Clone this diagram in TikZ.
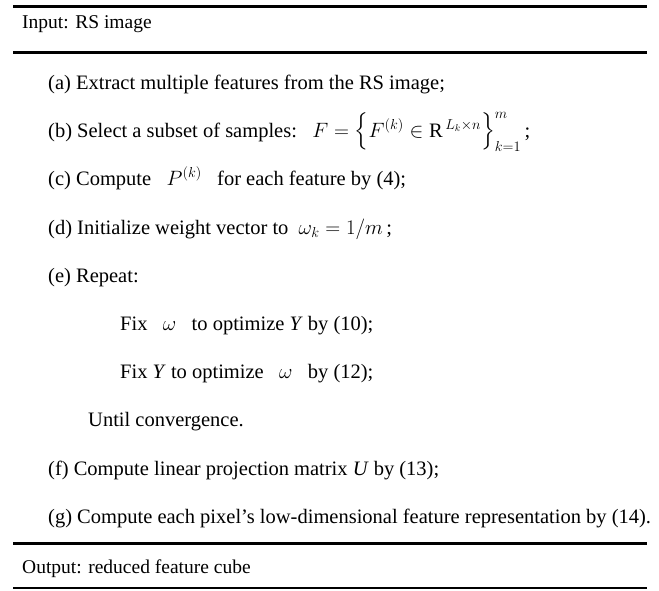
\documentclass[tikz,border=0pt]{standalone}
\usepackage{amsmath}
\usepackage{fontspec}
\setmainfont{Liberation Serif}
\begin{document}
\begin{tikzpicture}[x=1pt,y=-1pt,
  hdr/.style={anchor=base west, inner sep=0pt, font=\fontsize{19.5}{23}\selectfont},
  txt/.style={anchor=base west, inner sep=0pt, font=\fontsize{20.5}{25}\selectfont},
  thickrule/.style={line width=3pt},
  thinrule/.style={line width=1.4pt}]
\useasboundingbox (0,0) rectangle (659,590);
% rules
\coordinate (r1l) at (13,6);   \coordinate (r1r) at (647,6);
\coordinate (r2l) at (13,52);  \coordinate (r2r) at (647,52);
\coordinate (r3l) at (13,543); \coordinate (r3r) at (647,543);
\coordinate (r4l) at (13,588); \coordinate (r4r) at (647,588);
\draw[thickrule] (r1l) -- (r1r);
\draw[thickrule] (r2l) -- (r2r);
\draw[thickrule] (r3l) -- (r3r);
\draw[thinrule] (r4l) -- (r4r);
% texts
\node[hdr] (in) at (22,28) {Input: RS image};
\node[txt] (a) at (48,89) {(a) Extract multiple features from the RS image;};
\node[txt] (b) at (48,137) {(b) Select a subset of samples:\ \ \ $F=\Big\{F^{(k)}\in \mathrm{R}^{\,L_k\times n}\Big\}_{k=1}^{m}$\,;};
\node[txt] (c) at (48,185) {(c) Compute\ \ \ $P^{(k)}$\ \ \ for each feature by (4);};
\node[txt] (d) at (48,234) {(d) Initialize weight vector to\ \ $\omega_k=1/m$\,;};
\node[txt] (e) at (48,282) {(e) Repeat:};
\node[txt] (e1) at (120,330) {Fix\ \ \ $\omega$\ \ \ to optimize \textit{Y} by (10);};
\node[txt] (e2) at (120,378) {Fix \textit{Y} to optimize\ \ \ $\omega$\ \ \ by (12);};
\node[txt] (e3) at (88,426) {Until convergence.};
\node[txt] (f) at (48,475) {(f) Compute linear projection matrix \textit{U} by (13);};
\node[txt] (g) at (48,523) {(g) Compute each pixel's low-dimensional feature representation by (14).};
\node[hdr] (out) at (22,573) {Output: reduced feature cube};
\end{tikzpicture}
\end{document}
